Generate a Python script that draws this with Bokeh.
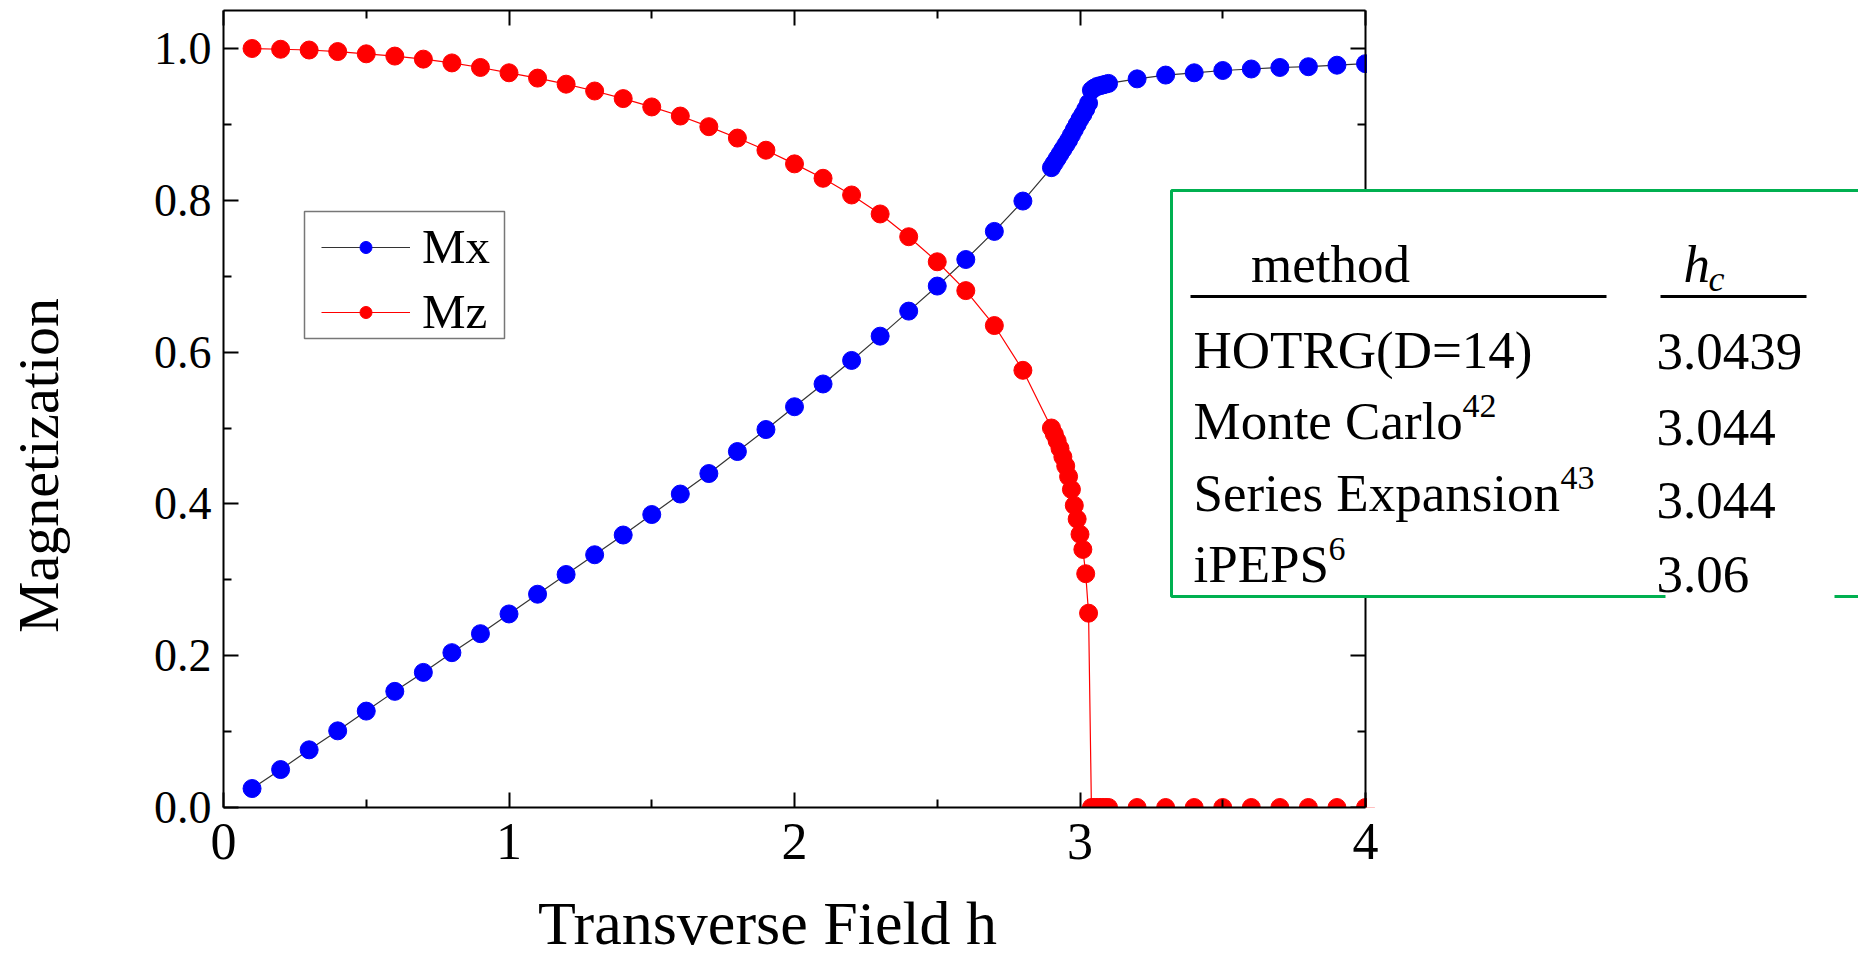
import math
from bokeh.plotting import figure
from bokeh.models import (Range1d, LinearAxis, Label, BoxAnnotation, FixedTicker,
                          PrintfTickFormatter, CustomJSTickFormatter)
from bokeh.embed import file_html
from bokeh.resources import INLINE

# ---------------- data ----------------
h = [0.1, 0.2, 0.3, 0.4, 0.5, 0.6, 0.7, 0.8, 0.9, 1.0,
     1.1, 1.2, 1.3, 1.4, 1.5, 1.6, 1.7, 1.8, 1.9, 2.0,
     2.1, 2.2, 2.3, 2.4, 2.5, 2.6, 2.7, 2.8, 2.9,
     2.91, 2.92, 2.93, 2.94, 2.95, 2.96, 2.97, 2.98, 2.99, 3.00,
     3.01, 3.02, 3.03, 3.04, 3.05, 3.06, 3.07, 3.08, 3.09,
     3.1, 3.2, 3.3, 3.4, 3.5, 3.6, 3.7, 3.8, 3.9, 4.0]

mx = [0.025, 0.050, 0.076, 0.101, 0.127, 0.153, 0.178, 0.204, 0.229, 0.255,
      0.281, 0.307, 0.333, 0.359, 0.386, 0.413, 0.440, 0.469, 0.498, 0.528,
      0.558, 0.589, 0.621, 0.654, 0.687, 0.722, 0.759, 0.799, 0.843,
      0.849, 0.855, 0.861, 0.867, 0.873, 0.879, 0.886, 0.893, 0.900, 0.907,
      0.913, 0.920, 0.928, 0.945, 0.948, 0.950, 0.951, 0.952, 0.953,
      0.954, 0.960, 0.965, 0.968, 0.971, 0.973, 0.975, 0.976, 0.978, 0.980]

mz = [1.000, 0.999, 0.998, 0.996, 0.993, 0.990, 0.986, 0.981, 0.975, 0.968,
      0.961, 0.953, 0.944, 0.934, 0.923, 0.911, 0.897, 0.882, 0.866, 0.848,
      0.829, 0.807, 0.782, 0.752, 0.719, 0.681, 0.635, 0.576, 0.500,
      0.492, 0.483, 0.473, 0.462, 0.450, 0.436, 0.419, 0.398, 0.380, 0.360,
      0.340, 0.308, 0.256, 0.0, 0.0, 0.0, 0.0, 0.0, 0.0,
      0.0, 0.0, 0.0, 0.0, 0.0, 0.0, 0.0, 0.0, 0.0, 0.0]

methods = ["HOTRG(D=14)", "Monte Carlo", "Series Expansion", "iPEPS"]
method_refs = ["", "42", "43", "6"]
hc_values = ["3.0439", "3.044", "3.044", "3.06"]

x_ticks = [0, 1, 2, 3, 4]
x_minor = [0.5, 1.5, 2.5, 3.5]
y_ticks = [0.0, 0.2, 0.4, 0.6, 0.8, 1.0]
y_minor = [0.1, 0.3, 0.5, 0.7, 0.9]
X_MIN, X_MAX = 0, 4
Y_MIN, Y_MAX = 0, 1.05

# ---------------- layout ----------------
# The frame fills the whole canvas; the axes sit at fixed data locations so the
# titles and the table (partly outside the plot box) can be drawn as annotations.
W, H = 1858, 960
X0, PXU = 223.0, 285.5        # canvas px of h = 0, px per unit of h
Y0, PYU = 807.0, 759.0        # canvas px of M = 0, px per unit of M
SERIF = "Liberation Serif"

p = figure(width=W, height=H, output_backend="svg", toolbar_location=None,
           x_range=Range1d(-X0 / PXU, (W - X0) / PXU),
           y_range=Range1d(-(H - Y0) / PYU, Y0 / PYU),
           min_border_left=0, min_border_right=0, min_border_top=0, min_border_bottom=0)
p.xgrid.visible = False
p.ygrid.visible = False
p.background_fill_color = "white"
p.border_fill_color = "white"
p.outline_line_color = None


def style_axis(ax, ticks, minor, bounds, loc, show_labels, fmt=None, size="40px",
               standoff=12, level="overlay"):
    ax.ticker = FixedTicker(ticks=ticks, minor_ticks=minor)
    ax.bounds = bounds
    ax.fixed_location = loc
    ax.level = level
    ax.axis_line_width = 2
    ax.axis_line_color = "black"
    ax.major_tick_in = 15
    ax.major_tick_out = 0
    ax.minor_tick_in = 8
    ax.minor_tick_out = 0
    ax.major_tick_line_width = 2
    ax.minor_tick_line_width = 2
    ax.major_tick_line_color = "black"
    ax.minor_tick_line_color = "black"
    if show_labels:
        ax.formatter = PrintfTickFormatter(format=fmt)
        ax.major_label_text_font = SERIF
        ax.major_label_text_font_size = size
        ax.major_label_text_color = "black"
        ax.major_label_standoff = standoff
    else:
        ax.formatter = CustomJSTickFormatter(code="return ''")
        ax.major_label_standoff = 0


style_axis(p.xaxis[0], x_ticks, x_minor, (X_MIN, X_MAX), Y_MIN, True, "%d", "52px", 16)
style_axis(p.yaxis[0], y_ticks, y_minor, (Y_MIN, Y_MAX), X_MIN, True, "%.1f", "46px", 12)
top_ax = LinearAxis()
right_ax = LinearAxis()
style_axis(top_ax, x_ticks, x_minor, (X_MIN, X_MAX), Y_MAX, False)
style_axis(right_ax, y_ticks, y_minor, (Y_MIN, Y_MAX), X_MAX, False, level="guide")
p.add_layout(top_ax, "above")
p.add_layout(right_ax, "right")

# ---------------- series ----------------
p.line(h, mx, line_color="#333333", line_width=1.2, legend_label="Mx")
p.scatter(h, mx, size=18, fill_color="#0000FF", line_color="#0000FF", legend_label="Mx")
p.line(h, mz, line_color="#FF0000", line_width=1.2, legend_label="Mz")
p.scatter(h, mz, size=18, fill_color="#FF0000", line_color="#FF0000", legend_label="Mz")

lg = p.legend[0]
lg.location = (321, H - 340)
lg.border_line_color = None
lg.background_fill_alpha = 0
lg.label_text_font = SERIF
lg.label_text_font_size = "49px"
lg.label_text_color = "black"
lg.glyph_width = 89
lg.glyph_height = 30
lg.label_height = 30
lg.label_standoff = 12
lg.spacing = 8
lg.padding = 10
lg.margin = 0


# ---------------- annotations (image px -> screen units) ----------------
def sx(px):
    return px


def sy(py):
    return H - py


def add_text(text, x, base, size, align="left", style="normal", angle=0.0, middle=None):
    # text is placed by its baseline; anchor is the em-box middle
    yy = middle if middle is not None else base - 0.35 * size
    p.add_layout(Label(x=sx(x), y=sy(yy), x_units="screen", y_units="screen", text=text,
                       text_font=SERIF, text_font_size=f"{size}px", text_align=align,
                       text_baseline="middle", text_font_style=style, angle=angle,
                       text_color="black"))


def add_box(l, r, t, b, fill="black", line=None, lw=0, level="annotation"):
    p.add_layout(BoxAnnotation(left=sx(l), right=sx(r), top=sy(t), bottom=sy(b),
                               left_units="screen", right_units="screen",
                               top_units="screen", bottom_units="screen",
                               fill_color=fill, fill_alpha=1.0, level=level,
                               line_color=line, line_alpha=1.0, line_width=lw))


# legend frame (drawn beneath the data layer; no data passes there)
add_box(304, 504, 211, 338, fill="white", line="#777777", lw=1.5, level="underlay")

# clip the markers at the plot box (bottom and right edges)
add_box(0, W, Y0, H, fill="white")
add_box(X0 + X_MAX * PXU + 1.5, W, 0, Y0, fill="white")

# axis titles
add_text("Magnetization", 38, None, 58, align="center", angle=math.pi / 2, middle=465)
add_text("Transverse Field h", 767, 944, 62, align="center")

# table frame, rules and the white patch that interrupts the bottom border
TF = 53                       # table font size (px)
add_box(1171, 1990, 190, 596, fill="white", line="#00B050", lw=3)
add_box(1665, 1834, 589, 600, fill="white")
add_box(1190, 1606, 294.5, 297.5)
add_box(1660, 1806, 294.5, 297.5)

# table texts
add_text("method", 1330, 282, TF, align="center")
add_text("h", 1683, 282, TF, style="italic")
add_text("c", 1708, 291, 36, style="italic")

row_base = [368, 439, 511, 582]
val_base = [370, 446, 519, 593]
sup_x = [None, 1462, 1560, 1328]
for i in range(len(methods)):
    add_text(methods[i], 1193, row_base[i], TF)
    if method_refs[i]:
        add_text(method_refs[i], sup_x[i], row_base[i] - 22, 34)
    add_text(hc_values[i], 1656, val_base[i], TF)

open("out.html", "w").write(file_html(p, INLINE))
